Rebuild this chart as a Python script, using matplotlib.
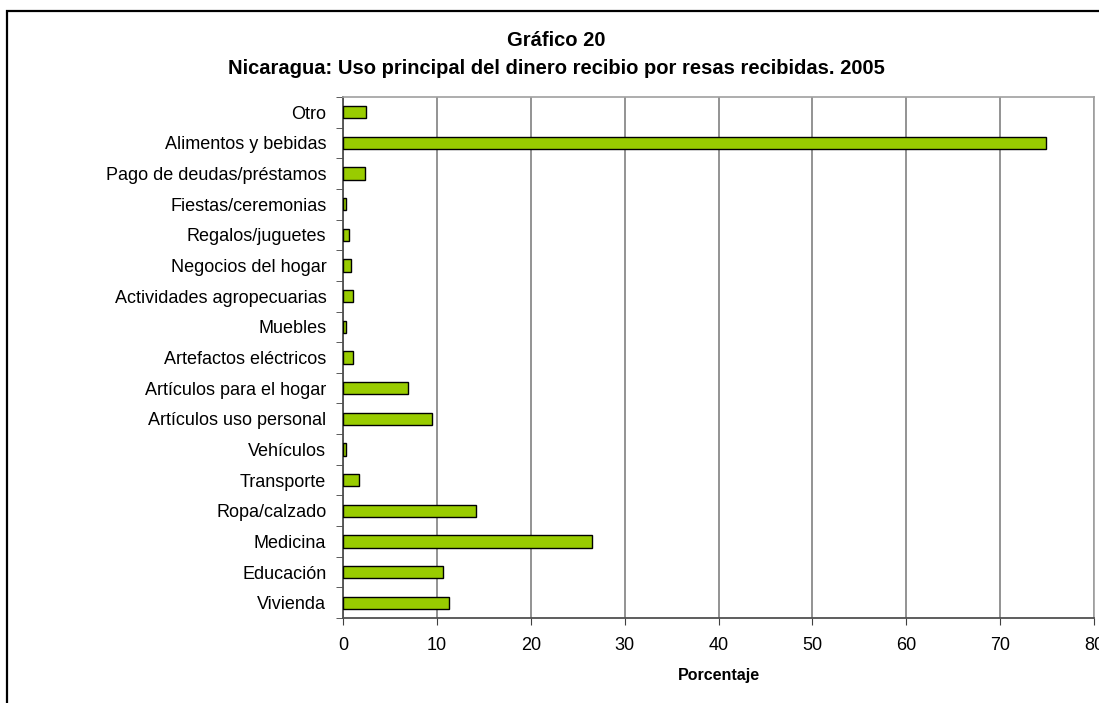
import matplotlib.pyplot as plt
from matplotlib.patches import Rectangle
import numpy as np

# Datos (de abajo hacia arriba)
categorias = ["Vivienda", "Educación", "Medicina", "Ropa/calzado", "Transporte",
              "Vehículos", "Artículos uso personal", "Artículos para el hogar",
              "Artefactos eléctricos", "Muebles", "Actividades agropecuarias",
              "Negocios del hogar", "Regalos/juguetes", "Fiestas/ceremonias",
              "Pago de deudas/préstamos", "Alimentos y bebidas", "Otro"]
porcentajes = [11.3, 10.7, 26.5, 14.2, 1.7, 0.35, 9.5, 6.9, 1.1, 0.35, 1.1,
               0.85, 0.68, 0.35, 2.3, 74.9, 2.4]
ticks_x = [0, 10, 20, 30, 40, 50, 60, 70, 80]

plt.rcParams['font.family'] = ['Liberation Sans', 'DejaVu Sans']

fig = plt.figure(figsize=(10.99, 7.03), dpi=100)
ax = fig.add_axes([343/1099, 1-618/703, (1094-343)/1099, (618-97)/703])

# Marco exterior
fig.patches.append(Rectangle((6.5/1099, -0.1), 1.2, 1-11/703+0.1,
                             transform=fig.transFigure, fill=False,
                             edgecolor='black', linewidth=1.6))

y = np.arange(len(categorias))
ax.barh(y, porcentajes, height=0.4, color='#99CC00', edgecolor='black',
        linewidth=1, zorder=3)

ax.set_xlim(0, 80)
ax.set_ylim(-0.5, len(categorias)-0.5)
ax.set_xticks(ticks_x)
ax.set_xticklabels([str(t) for t in ticks_x], fontsize=13)
ax.set_yticks(y)
ax.set_yticklabels(categorias, fontsize=13)
ax.set_yticks(np.arange(-0.5, len(categorias), 1), minor=True)
ax.tick_params(axis='y', which='major', length=0, pad=12)
ax.tick_params(axis='y', which='minor', length=5, color='#404040', direction='out')
ax.tick_params(axis='x', length=5, color='#404040', pad=9)

ax.grid(axis='x', color='#808080', linewidth=1.2, zorder=0)
for s in ['left', 'bottom']:
    ax.spines[s].set_color('#505050')
    ax.spines[s].set_linewidth(1.3)
for s in ['top', 'right']:
    ax.spines[s].set_color('#a0a0a0')
    ax.spines[s].set_linewidth(1.2)

ax.set_xlabel('Porcentaje', fontsize=11.5, fontweight='bold', labelpad=10)

fig.text(556/1099, 1-40/703, 'Gráfico 20', ha='center', va='center',
         fontsize=14.5, fontweight='bold')
fig.text(556/1099, 1-68/703,
         'Nicaragua: Uso principal del dinero recibio por resas recibidas. 2005',
         ha='center', va='center', fontsize=14.5, fontweight='bold')

plt.savefig('out.png', dpi=100)
